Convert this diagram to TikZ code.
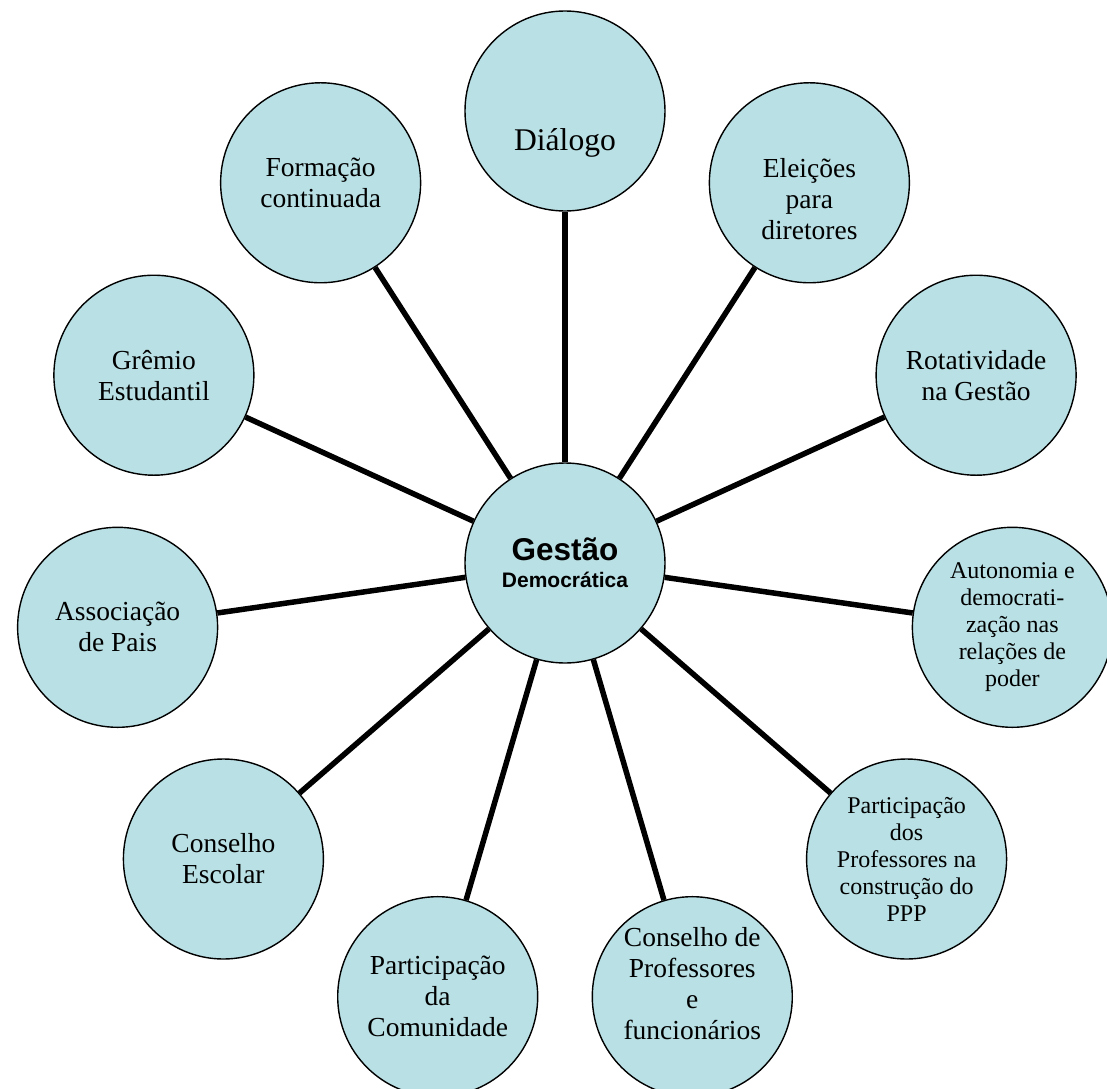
\documentclass[tikz,border=0pt]{standalone}
\usepackage{fontspec}
\setmainfont{Liberation Serif}
\setsansfont{Liberation Sans}
\usepackage{xcolor}
\usepackage{tikz}
\usetikzlibrary{positioning}
\definecolor{bubblefill}{RGB}{185,224,228}

\tikzset{
  bubble/.style={circle,draw,fill=bubblefill,line width=1.4pt,minimum size=200pt,
    inner sep=0pt,align=center,font=\fontsize{27.5}{31}\selectfont},
  smalltext/.style={font=\fontsize{24}{27}\selectfont},
  spoke/.style={line width=5.5pt}
}

\begin{document}
\begin{tikzpicture}[x=1pt,y=1pt]
            \useasboundingbox (-565,-525) rectangle (542,563);
            \node[bubble,font=\fontsize{21}{27}\selectfont\sffamily\bfseries](gestao) at (0,0) {{\fontsize{31.5}{27}\selectfont Gestão}\\Democrática};
            \node[bubble,font=\fontsize{31.6}{36}\selectfont](dialogo) at (90:452) {\raisebox{-32pt}[\height][\depth]{Diálogo}};
            % text set lower / higher than the circle centre
            \node[bubble](eleicoes) at (57.27:452) {\raisebox{-20pt}[\height][\depth]{\begin{tabular}{@{}c@{}}Eleições\\para\\diretores\end{tabular}}};
            \node[bubble](rotatividade) at (24.55:452) {Rotatividade\\na Gestão};
            \node[bubble,smalltext](autonomia) at (-8.18:452) {Autonomia e\\democrati-\\zação nas\\relações de\\poder};
            \node[bubble,smalltext](ppp) at (-40.91:452) {Participação\\dos\\Professores na\\construção do\\PPP};
            \node[bubble](conselhoprof) at (-73.64:452) {\raisebox{10pt}[\height][\depth]{\begin{tabular}{@{}c@{}}Conselho de\\Professores\\e\\funcionários\end{tabular}}};
            \node[bubble](comunidade) at (-106.36:452) {Participação\\da\\Comunidade};
            \node[bubble](conselhoescolar) at (-139.09:452) {Conselho\\Escolar};
            \node[bubble](associacao) at (-171.82:452) {Associação\\de Pais};
            \node[bubble](gremio) at (155.45:452) {Grêmio\\Estudantil};
            \node[bubble](formacao) at (122.73:452) {Formação\\continuada};
            \draw[spoke] (gestao) -- (dialogo);
            \draw[spoke] (gestao) -- (eleicoes);
            \draw[spoke] (gestao) -- (rotatividade);
            \draw[spoke] (gestao) -- (autonomia);
            \draw[spoke] (gestao) -- (ppp);
            \draw[spoke] (gestao) -- (conselhoprof);
            \draw[spoke] (gestao) -- (comunidade);
            \draw[spoke] (gestao) -- (conselhoescolar);
            \draw[spoke] (gestao) -- (associacao);
            \draw[spoke] (gestao) -- (gremio);
            \draw[spoke] (gestao) -- (formacao);
        \end{tikzpicture}
\end{document}
